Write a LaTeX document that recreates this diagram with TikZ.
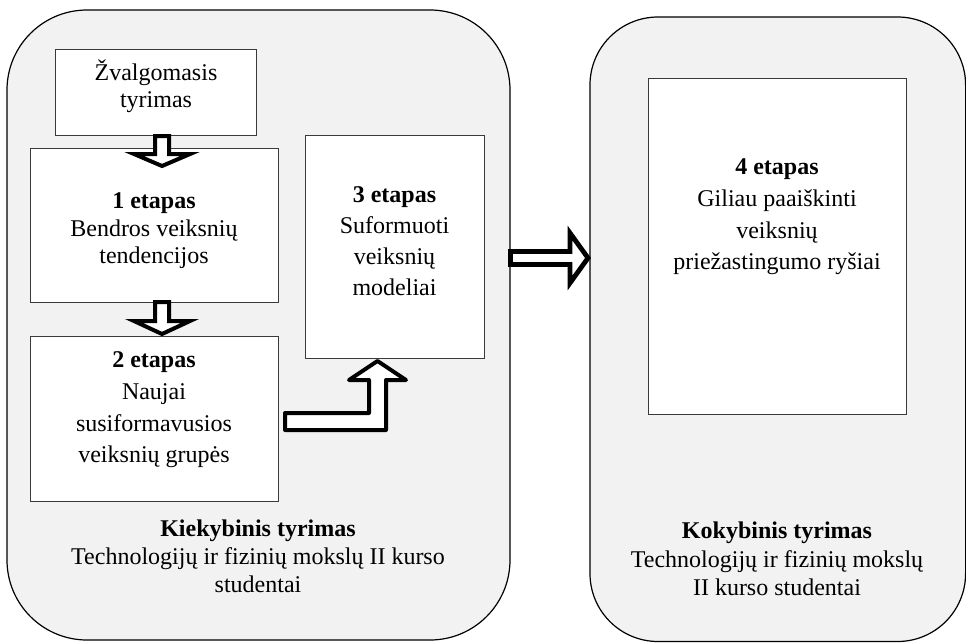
\documentclass[tikz,border=0pt]{standalone}
\usepackage{fontspec}
\setmainfont{Liberation Serif}
\usetikzlibrary{fit}
\definecolor{panelgrey}{HTML}{F2F2F2}
\definecolor{boxline}{HTML}{3A3A3A}
\tikzset{
  panel/.style={draw=black,line width=0.6pt,fill=panelgrey,inner sep=0pt},
  stagebox/.style={draw=boxline,line width=0.5pt,fill=white,inner sep=0pt},
  blockarrow/.style={draw=black,line width=2pt,fill=white}
}
\newcommand{\txtsize}[1]{\fontsize{12pt}{#1}\selectfont}
\begin{document}
\begin{tikzpicture}[x=0.5pt,y=-0.5pt]
        \useasboundingbox (0,0) rectangle (966,643);
        % two research panels
        \node[panel,rounded corners=40pt,fit={(7,10) (510,640)}] (quant) {};
        \node[panel,rounded corners=34pt,fit={(590,17) (965.6,641.5)}] (qual) {};
        \begin{scope}[every node/.style={stagebox}]
          \node[fit={(55,49) (256,135)}] (zv) {};
          \node[fit={(30,148) (278,302)}] (s1) {};
          \node[fit={(305,135) (484,358)}] (s3) {};
          \node[fit={(30,336) (278,501)}] (s2) {};
          \node[fit={(648,78) (906,414)}] (s4) {};
        \end{scope}
        \begin{scope}[every node/.style={align=center,inner sep=0pt}]
          \node[font=\txtsize{13.5pt}] (zvt) at (156,86) {Žvalgomasis\\tyrimas};
          \node[font=\txtsize{13.75pt}] (s1t) at (154,231) {\textbf{1 etapas}\\Bendros veiksnių\\tendencijos};
          \node[font=\txtsize{15.5pt}] (s3t) at (394.5,241) {\textbf{3 etapas}\\Suformuoti\\veiksnių\\modeliai};
          \node[font=\txtsize{15.8pt}] (s2t) at (154,410) {\textbf{2 etapas}\\Naujai\\susiformavusios\\veiksnių grupės};
          \node[font=\txtsize{15.8pt}] (s4t) at (777,217) {\textbf{4 etapas}\\Giliau paaiškinti\\veiksnių\\priežastingumo ryšiai};
          \node[font=\txtsize{14pt}] (quantt) at (258,556) {\textbf{Kiekybinis tyrimas}\\Technologijų ir fizinių mokslų II kurso\\studentai};
          \node[font=\txtsize{14.25pt}] (qualt) at (777,559) {\textbf{Kokybinis tyrimas}\\Technologijų ir fizinių mokslų\\II kurso studentai};
        \end{scope}
        % block arrows
        \begin{scope}[every path/.style={blockarrow}]
          \path (155,136) -- (169,136) -- (169,154) -- (190,154) -- (162,166) -- (134,154) -- (155,154) -- cycle;
          \path (155,302) -- (169,302) -- (169,321) -- (190,321) -- (162,334) -- (134,321) -- (155,321) -- cycle;
          \path[line join=round] (285,413) -- (369,413) -- (369,380) -- (349,380) -- (377.5,361) -- (406,380) -- (386,380) -- (386,430) -- (285,430) -- cycle;
          \path[line width=2.4pt] (510.5,251.5) -- (570,251.5) -- (570,233) -- (588,258) -- (570,283) -- (570,264.5) -- (510.5,264.5) -- cycle;
        \end{scope}
      \end{tikzpicture}
\end{document}
